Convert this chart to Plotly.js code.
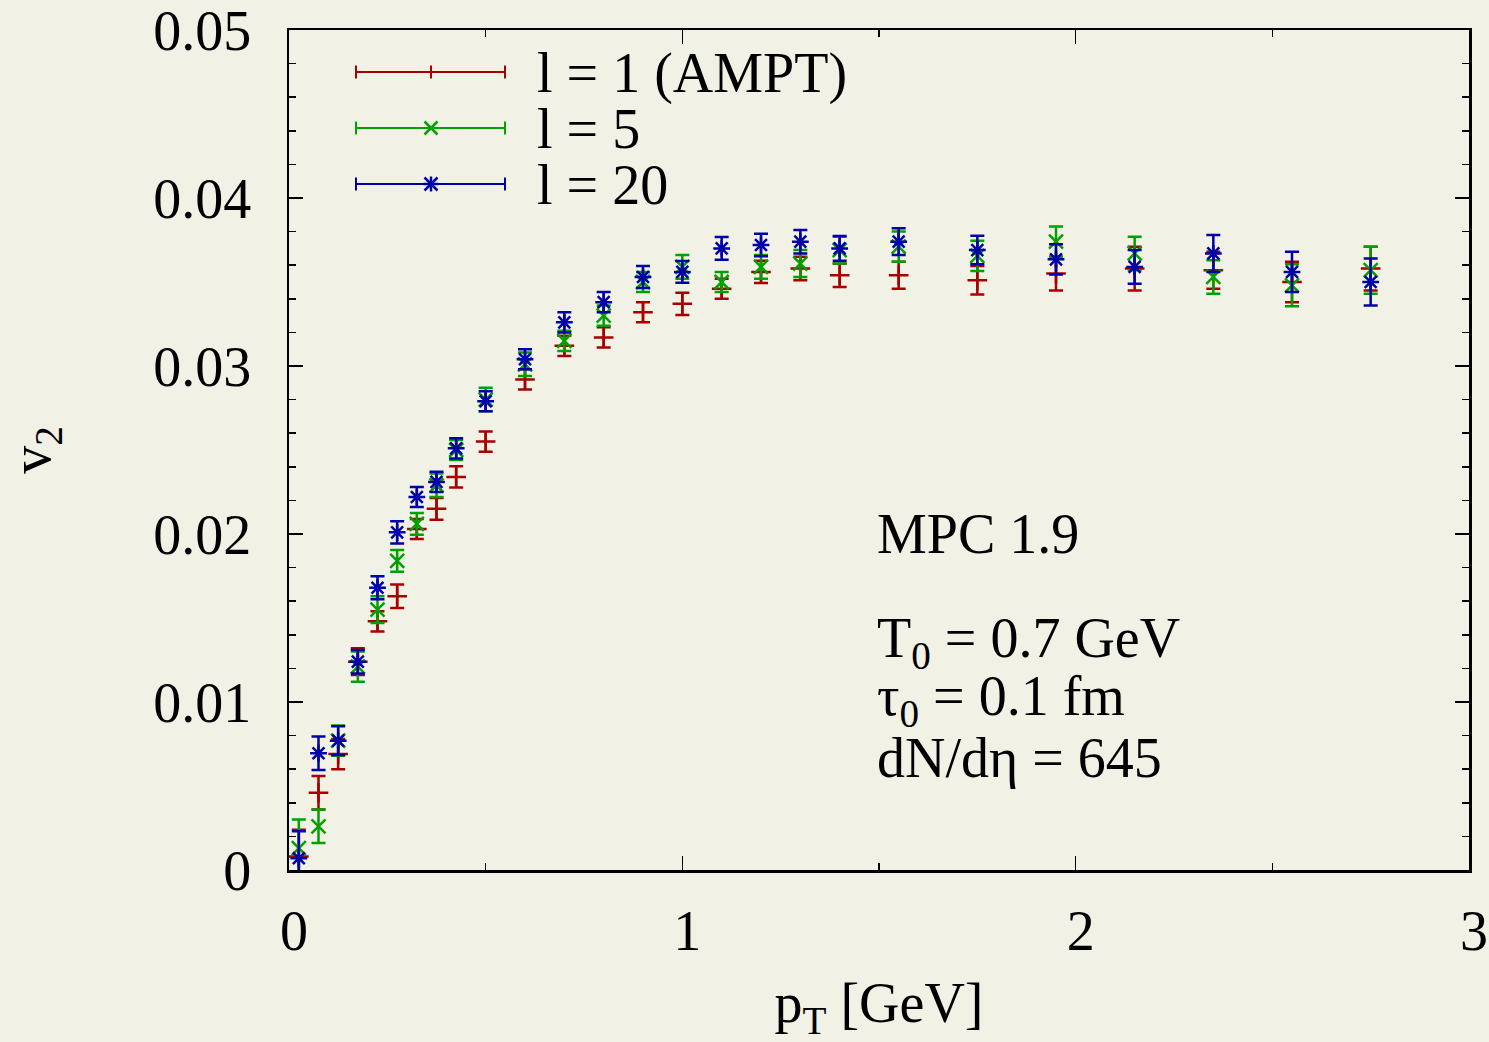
<!DOCTYPE html>
<html>
<head>
<meta charset="utf-8">
<script src="https://cdn.plot.ly/plotly-3.0.1.min.js"></script>
<style>html,body{margin:0;padding:0;background:#f2f1e6;}#chart{width:1489px;height:1042px;}</style>
</head>
<body>
<div id="chart"></div>
<script>
// ---- data ----
var pT = [0.025,0.075,0.125,0.175,0.225,0.275,0.325,0.375,0.425,0.5,0.6,0.7,0.8,0.9,1.0,1.1,1.2,1.3,1.4,1.55,1.75,1.95,2.15,2.35,2.55,2.75];

var v2_l1 = [0.0008,0.0046,0.0069,0.0124,0.0148,0.0163,0.0203,0.0215,0.0234,0.0255,0.0292,0.0312,0.0317,0.0332,0.0337,0.0346,0.0356,0.0358,0.0354,0.0354,0.0351,0.0355,0.0358,0.0357,0.0350,0.0358];
var err_l1 = [0.0016,0.0010,0.0009,0.0008,0.0006,0.0007,0.0006,0.00065,0.00063,0.0006,0.0006,0.0006,0.0006,0.0006,0.00066,0.0006,0.00066,0.0007,0.0007,0.0008,0.00085,0.001,0.0013,0.0011,0.0012,0.0013];

var v2_l5 = [0.0013,0.0026,0.0077,0.0121,0.0155,0.0184,0.0206,0.0229,0.0250,0.0280,0.0301,0.0315,0.0330,0.0350,0.0359,0.0350,0.0359,0.0361,0.0369,0.0371,0.03655,0.0374,0.0367,0.0353,0.0348,0.0357];
var err_l5 = [0.0017,0.0010,0.0009,0.0009,0.0008,0.00065,0.00065,0.0007,0.0006,0.0007,0.0007,0.0006,0.0006,0.0006,0.0007,0.0006,0.0007,0.0008,0.0008,0.0009,0.0009,0.0009,0.0010,0.0010,0.00125,0.0014];

var v2_l20 = [0.0007,0.00695,0.0077,0.0124,0.0168,0.0201,0.0222,0.0231,0.0251,0.0279,0.0304,0.0326,0.0338,0.0353,0.0356,0.0370,0.0372,0.0374,0.0370,0.0374,0.0369,0.03635,0.0359,0.0367,0.0356,0.0350];
var err_l20 = [0.0016,0.0010,0.00085,0.0007,0.00068,0.00066,0.0006,0.0006,0.0006,0.0006,0.0006,0.0006,0.0006,0.00065,0.00065,0.00068,0.00067,0.0007,0.00074,0.0008,0.00085,0.0009,0.0010,0.0011,0.0012,0.0014];

var seriesNames = ["l = 1 (AMPT)", "l = 5", "l = 20"];
var xTickVals = [0,1,2,3];
var yTickVals = [0,0.01,0.02,0.03,0.04,0.05];
var yTickText = ["0","0.01","0.02","0.03","0.04","0.05"];

// ---- styles ----
var colors = ["#a80000", "#00a000", "#0000a8"];
var symbols = ["cross-thin-open", "x-thin-open", "asterisk-open"];
var FONT = "Liberation Serif";
var FS = 56;
var BG = "#f2f1e6";

// plot area in pixels
var L = 289, R = 1469, T = 30, B = 870;
function px(x){ return (x - L) / (R - L); }
function py(y){ return (B - y) / (B - T); }

var ys = [v2_l1, v2_l5, v2_l20];
var es = [err_l1, err_l5, err_l20];
var traces = [];
for (var i = 0; i < 3; i++) {
  traces.push({
    type: "scatter", mode: "markers", name: seriesNames[i],
    x: pT, y: ys[i],
    error_y: {type: "data", array: es[i], visible: true, color: colors[i], thickness: 2.5, width: 7},
    marker: {symbol: symbols[i], size: 14, color: colors[i], line: {color: colors[i], width: 2.5}},
    showlegend: false, cliponaxis: false
  });
}

// ---- manual legend (gnuplot style: line with caps + marker) ----
var shapes = [];
var annotations = [];
var legY = [72, 128, 184];
var legX0 = 356, legX1 = 505, legXm = 431, legTextX = 535;
function seg(xc, yc, dx0, dy0, dx1, dy1, col, w) {
  return {type: "line", xref: "paper", yref: "paper", xsizemode: "pixel", ysizemode: "pixel",
    xanchor: px(xc), yanchor: py(yc), x0: dx0, y0: dy0, x1: dx1, y1: dy1,
    line: {color: col, width: w}, layer: "above"};
}
for (var k = 0; k < 3; k++) {
  var c = colors[k], yy = legY[k];
  shapes.push(seg(legX0, yy, 0, 0, legX1 - legX0, 0, c, 2));
  shapes.push(seg(legX0, yy, 0, -6.5, 0, 6.5, c, 2));
  shapes.push(seg(legX1, yy, 0, -6.5, 0, 6.5, c, 2));
  if (k === 0) {
    shapes.push(seg(legXm, yy, 0, -6.5, 0, 6.5, c, 2));
  } else {
    shapes.push(seg(legXm, yy, -6.5, -6.5, 6.5, 6.5, c, 2.5));
    shapes.push(seg(legXm, yy, -6.5, 6.5, 6.5, -6.5, c, 2.5));
    if (k === 2) {
      shapes.push(seg(legXm, yy, 0, -7.5, 0, 7.5, c, 2.5));
      shapes.push(seg(legXm, yy, -7.5, 0, 7.5, 0, c, 2.5));
    }
  }
  annotations.push({xref: "paper", yref: "paper", x: px(legTextX), y: py(yy + 1), xanchor: "left", yanchor: "middle",
    text: seriesNames[k], showarrow: false, font: {family: FONT, size: FS, color: "black"}});
}

// ---- parameter labels ----
var infoLines = ["MPC 1.9", "T<sub>0</sub> = 0.7 GeV", "τ<sub>0</sub> = 0.1 fm", "dN/dη = 645"];
var infoY = [534, 642, 700, 758];
for (var m = 0; m < infoLines.length; m++) {
  annotations.push({xref: "paper", yref: "paper", x: px(875), y: py(infoY[m]), xanchor: "left", yanchor: "middle",
    text: infoLines[m], showarrow: false, font: {family: FONT, size: FS, color: "black"}});
}

var axisCommon = {
  showline: true, linecolor: "black", linewidth: 2.5, mirror: "ticks",
  ticks: "inside", ticklen: 14, tickwidth: 1.5, tickcolor: "black",
  showgrid: false, zeroline: false, ticklabeloverflow: "allow",
  tickfont: {family: FONT, size: FS, color: "black"}
};

var layout = {
  width: 1489, height: 1042,
  margin: {l: L, r: 1489 - R, t: T, b: 1042 - B, pad: 0},
  paper_bgcolor: BG, plot_bgcolor: BG,
  font: {family: FONT, size: FS, color: "black"},
  showlegend: false,
  xaxis: Object.assign({}, axisCommon, {
    range: [0, 3], tickvals: xTickVals, ticklabelstandoff: 10, ticklabelshift: 5,
    minor: {dtick: 0.5, ticks: "inside", ticklen: 7, tickwidth: 1.5, tickcolor: "black", showgrid: false},
    title: {text: "p<sub>T</sub> [GeV]", font: {family: FONT, size: FS, color: "black"}, standoff: 50}
  }),
  yaxis: Object.assign({}, axisCommon, {
    range: [0, 0.05], tickvals: yTickVals, ticktext: yTickText, ticklabelstandoff: 24,
    minor: {dtick: 0.002, ticks: "inside", ticklen: 7, tickwidth: 1.5, tickcolor: "black", showgrid: false},
    title: {text: "v<sub>2</sub>", font: {family: FONT, size: FS, color: "black"}, standoff: 112}
  }),
  shapes: shapes,
  annotations: annotations
};

Plotly.newPlot("chart", traces, layout, {displayModeBar: false, staticPlot: true});
</script>
</body>
</html>
